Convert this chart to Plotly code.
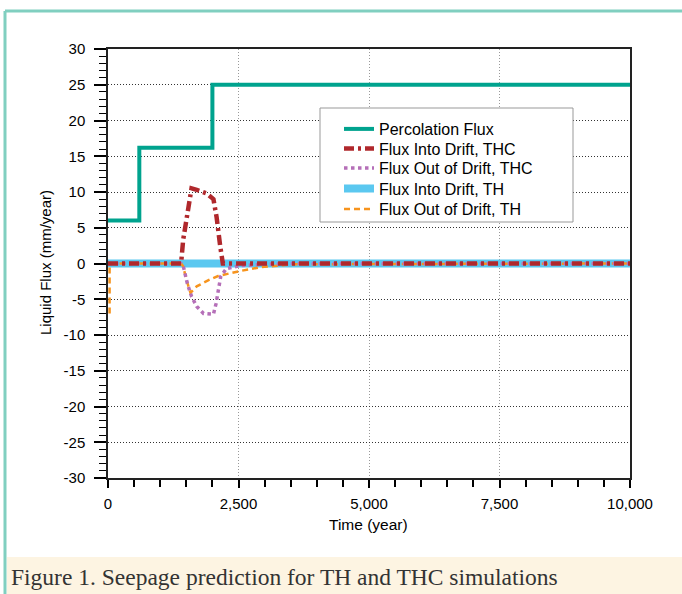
import plotly.graph_objects as go

# ---------------- data ----------------
perc_t = [0, 600, 600, 2000, 2000, 10000]
perc_v = [6, 6, 16.2, 16.2, 25, 25]

thc_in_t = [0, 1400, 1440, 1520, 1570, 1600, 1700, 1890, 2020, 2080, 2150, 2200, 10000]
thc_in_v = [0, 0, 3.3, 6.5, 9.3, 10.5, 10.3, 9.8, 9.0, 6.5, 2.4, 0, 0]

thc_out_t = [0, 1400, 1440, 1520, 1600, 1700, 1830, 2020, 2070, 2110, 2160, 2270, 2530, 3000, 3500, 10000]
thc_out_v = [0, 0, -0.3, -2.8, -4.6, -6.0, -7.0, -7.1, -5.6, -3.7, -1.8, -0.7, -0.3, -0.1, 0, 0]

th_in_t = [0, 10000]
th_in_v = [0, 0]

th_out_t = [30, 30, 45, 1400, 1440, 1500, 1580, 1700, 1935, 2110, 2530, 2910, 3240, 3600, 10000]
th_out_v = [-7, 0, 0, 0, -0.4, -2.2, -4.1, -3.2, -2.3, -1.75, -1.05, -0.53, -0.3, -0.1, 0]

x_tickvals = [0, 2500, 5000, 7500, 10000]
x_ticktext = ["0", "2,500", "5,000", "7,500", "10,000"]
y_tickvals = [-30, -25, -20, -15, -10, -5, 0, 5, 10, 15, 20, 25, 30]
y_ticktext = ["-30", "-25", "-20", "-15", "-10", "-5", "0", "5", "10", "15", "20", "25", "30"]

names = ["Percolation Flux", "Flux Into Drift, THC", "Flux Out of Drift, THC",
         "Flux Into Drift, TH", "Flux Out of Drift, TH"]

# ---------------- layout helpers ----------------
W, H = 682, 594
L, R, T, B = 108, 630, 49, 478


def px(x):
    return (x - L) / (R - L)


def py(y):
    return (B - y) / (B - T)


FONT = "Liberation Sans, Arial, sans-serif"

fig = go.Figure()
fig.add_trace(go.Scatter(x=th_in_t, y=th_in_v, mode="lines", name=names[3], legend="legend4",
                         line=dict(color="#5bc8f0", width=8)))
fig.add_trace(go.Scatter(x=th_out_t, y=th_out_v, mode="lines", name=names[4], legend="legend5",
                         line=dict(color="#f7941d", width=2.5, dash="6px,4px")))
fig.add_trace(go.Scatter(x=thc_out_t, y=thc_out_v, mode="lines", name=names[2], legend="legend3",
                         line=dict(color="#b56fb8", width=3.5, dash="dot")))
fig.add_trace(go.Scatter(x=thc_in_t, y=thc_in_v, mode="lines", name=names[1], legend="legend2",
                         line=dict(color="#b0282c", width=4.5, dash="10px,4px,3px,4px")))
fig.add_trace(go.Scatter(x=perc_t, y=perc_v, mode="lines", name=names[0], legend="legend",
                         line=dict(color="#00a38e", width=4)))

shapes = [
    # caption band
    dict(type="rect", xref="paper", yref="paper", x0=px(7), x1=px(682), y0=py(557), y1=py(594),
         fillcolor="#fdf4e2", line=dict(width=0), layer="below"),
    # outer frame
    dict(type="line", xref="paper", yref="paper", x0=px(5), x1=px(682), y0=py(11), y1=py(11),
         line=dict(color="#80cfc0", width=3)),
    dict(type="line", xref="paper", yref="paper", x0=px(5), x1=px(5), y0=py(11), y1=py(594),
         line=dict(color="#80cfc0", width=3)),
    # legend box
    dict(type="rect", xref="paper", yref="paper", x0=px(320), x1=px(573), y0=py(108), y1=py(222),
         fillcolor="white", line=dict(color="#999999", width=1), layer="above"),
]

annotations = [
    dict(text="Figure 1. Seepage prediction for TH and THC simulations", xref="paper", yref="paper",
         x=px(9), y=py(577), xanchor="left", yanchor="middle", showarrow=False,
         font=dict(family="Liberation Serif, Times New Roman, serif", size=23.5, color="#333333")),
    dict(text="Liquid Flux (mm/year)", xref="paper", yref="paper", x=px(45), y=py(263),
         xanchor="center", yanchor="middle", textangle=-90, showarrow=False,
         font=dict(family=FONT, size=15, color="black")),
    dict(text="Time (year)", xref="paper", yref="paper", x=px(368), y=py(524),
         xanchor="center", yanchor="middle", showarrow=False,
         font=dict(family=FONT, size=15.5, color="black")),
]

row_y = [129, 148.5, 168, 188.5, 209]
legends = {}
for i, yy in enumerate(row_y):
    key = "legend" if i == 0 else f"legend{i + 1}"
    legends[key] = dict(x=px(339), y=py(yy), xanchor="left", yanchor="middle",
                        bgcolor="rgba(0,0,0,0)", borderwidth=0,
                        font=dict(family=FONT, size=16, color="black"))

fig.update_layout(
    width=W, height=H,
    margin=dict(l=L, r=W - R, t=T, b=H - B, pad=0),
    paper_bgcolor="white", plot_bgcolor="white",
    font=dict(family=FONT, size=15, color="black"),
    shapes=shapes,
    annotations=annotations,
    showlegend=True,
    **legends,
    xaxis=dict(range=[0, 10000], tickvals=x_tickvals, ticktext=x_ticktext,
               ticks="outside", ticklen=8, tickwidth=1.5, tickcolor="black",
               ticklabelstandoff=3,
               showline=True, linecolor="#222", linewidth=1.5, mirror=True,
               showgrid=True, gridcolor="#999999", griddash="1px,2px", gridwidth=1,
               zeroline=False,
               minor=dict(dtick=500, ticks="outside", ticklen=7, tickwidth=1.5,
                          tickcolor="black", showgrid=False),
               tickfont=dict(size=15)),
    yaxis=dict(range=[-30, 30], tickvals=y_tickvals, ticktext=y_ticktext,
               ticks="outside", ticklen=12, tickwidth=1.5, tickcolor="black",
               ticklabelstandoff=6,
               showline=True, linecolor="#222", linewidth=1.5, mirror=True,
               showgrid=True, gridcolor="#333333", griddash="1px,2px", gridwidth=1,
               zeroline=False,
               minor=dict(dtick=1, ticks="outside", ticklen=7, tickwidth=1.2,
                          tickcolor="black", showgrid=False),
               tickfont=dict(size=15)),
)

fig.write_html("out.html")
